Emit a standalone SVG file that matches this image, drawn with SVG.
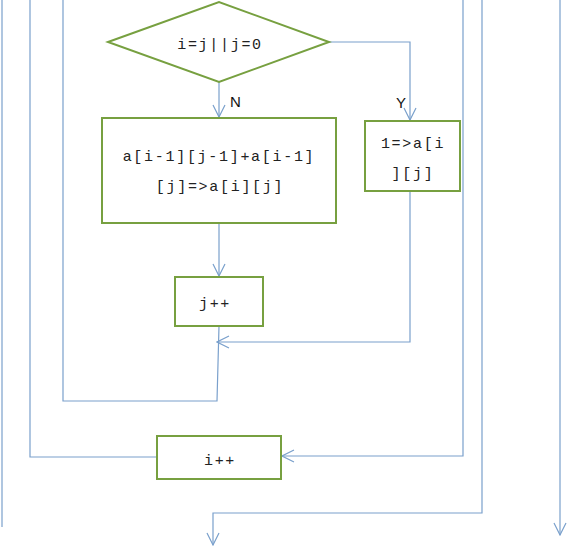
<svg xmlns="http://www.w3.org/2000/svg" width="581" height="551" viewBox="0 0 581 551">
<style>
.node{fill:#fff;stroke:#77a040;stroke-width:2}
.conn{fill:none;stroke:#7aa0cc;stroke-width:1.2}
.t{font-family:"Liberation Mono","DejaVu Sans Mono",monospace;font-size:15px;letter-spacing:1.7px;fill:#222;text-anchor:middle}
.lbl{font-family:"Liberation Sans",Arial,sans-serif;font-size:15px;fill:#111}
</style>
<defs>
<marker id="arr" viewBox="0 0 14 14" refX="13" refY="7" markerWidth="14" markerHeight="14" markerUnits="userSpaceOnUse" orient="auto">
<path d="M1,1 L13,7 L1,13" fill="none" stroke="#7aa0cc" stroke-width="1.2"/>
</marker>
</defs>
<g id="connectors">
<line class="conn" x1="2" y1="0" x2="2" y2="527"/>
<polyline class="conn" points="30,0 30,457 157,457"/>
<polyline class="conn" points="63,0 63,401 217,401 219,326"/>
<polyline class="conn" points="463,0 463,456 282,456" marker-end="url(#arr)"/>
<polyline class="conn" points="482,0 482,513 213,513 213,545" marker-end="url(#arr)"/>
<line class="conn" x1="560" y1="0" x2="560" y2="535" marker-end="url(#arr)"/>
<line class="conn" x1="219" y1="82" x2="219" y2="117" marker-end="url(#arr)"/>
<polyline class="conn" points="329,42 410,42 410,120" marker-end="url(#arr)"/>
<line class="conn" x1="219" y1="223" x2="219" y2="276" marker-end="url(#arr)"/>
<polyline class="conn" points="410,191 410,342 217,342" marker-end="url(#arr)"/>
</g>
<g id="decision">
<polygon class="node" points="108,42 219,2 329,42 219,82"/>
<text class="t" x="220" y="49">i=j||j=0</text>
</g>
<text class="lbl" x="230" y="107">N</text>
<text class="lbl" x="396" y="108">Y</text>
<g id="compute">
<rect class="node" x="102" y="118" width="234" height="105"/>
<text class="t" x="219" y="161">a[i-1][j-1]+a[i-1]</text>
<text class="t" x="220" y="191">[j]=&gt;a[i][j]</text>
</g>
<g id="setone">
<rect class="node" x="365" y="121" width="95" height="70"/>
<text class="t" x="413" y="148">1=&gt;a[i</text>
<text class="t" x="413" y="178">][j]</text>
</g>
<g id="jinc">
<rect class="node" x="175" y="277" width="88" height="49"/>
<text class="t" x="215" y="308">j++</text>
</g>
<g id="iinc">
<rect class="node" x="157" y="436" width="124" height="43"/>
<text class="t" x="220" y="465">i++</text>
</g>
</svg>
